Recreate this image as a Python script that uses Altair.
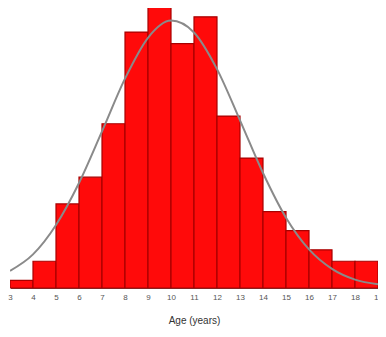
import altair as alt
import pandas as pd

# histogram bins (age in years) and counts
bin_start = [3, 4, 5, 6, 7, 8, 9, 10, 11, 12, 13, 14, 15, 16, 17, 18]
counts = [2, 7, 22, 29, 43, 67, 74, 64, 71, 45, 34, 20, 15, 10, 7, 7]

# fitted normal curve
curve_age = [3, 4, 5, 6, 7, 8, 9, 10, 11, 12, 13, 14, 15, 16, 17, 18, 19]
curve_val = [4.5, 8.8, 16.5, 27.5, 41, 54.8, 65.5, 70, 66.9, 57.3, 43.9, 30.1, 18.4, 10.1, 5.0, 2.2, 1.0]

tick_values = list(range(3, 20))

bars_df = pd.DataFrame({
    "start": bin_start,
    "end": [b + 1 for b in bin_start],
    "count": counts,
})
curve_df = pd.DataFrame({"age": curve_age, "val": curve_val})

xscale = alt.Scale(domain=[3, 19], nice=False, zero=False)
yscale = alt.Scale(domain=[0, 73.3], nice=False)

xaxis = alt.Axis(values=tick_values, title="Age (years)", ticks=False,
                 labelFlush=False, labelOverlap=False, labelFontSize=8,
                 labelColor="#555555", labelPadding=5, grid=False,
                 domainColor="#8b2020", titleFontSize=10,
                 titleFontWeight="normal", titleColor="#333333",
                 titlePadding=14, labelFont="Liberation Sans",
                 titleFont="Liberation Sans")

bars = alt.Chart(bars_df).mark_bar(
    color="#ff0a0a", stroke="#a80000", strokeWidth=1.2, clip=True
).encode(
    x=alt.X("start:Q", scale=xscale, axis=xaxis),
    x2="end:Q",
    y=alt.Y("count:Q", scale=yscale, axis=None),
    y2=alt.datum(0),
)

curve = alt.Chart(curve_df).mark_line(
    color="#8a8a8a", strokeWidth=2, interpolate="monotone", clip=True
).encode(
    x=alt.X("age:Q", scale=xscale, axis=xaxis),
    y=alt.Y("val:Q", scale=yscale, axis=None),
)

chart = alt.layer(bars, curve).properties(
    width=368, height=280,
    autosize=alt.AutoSizeParams(type="none"),
    padding={"left": 2, "top": 0, "right": 0, "bottom": 40},
).configure_view(stroke=None).configure_axis(labelOverlap=False)

chart.save("out.html", embed_options={"renderer": "svg", "actions": False})
